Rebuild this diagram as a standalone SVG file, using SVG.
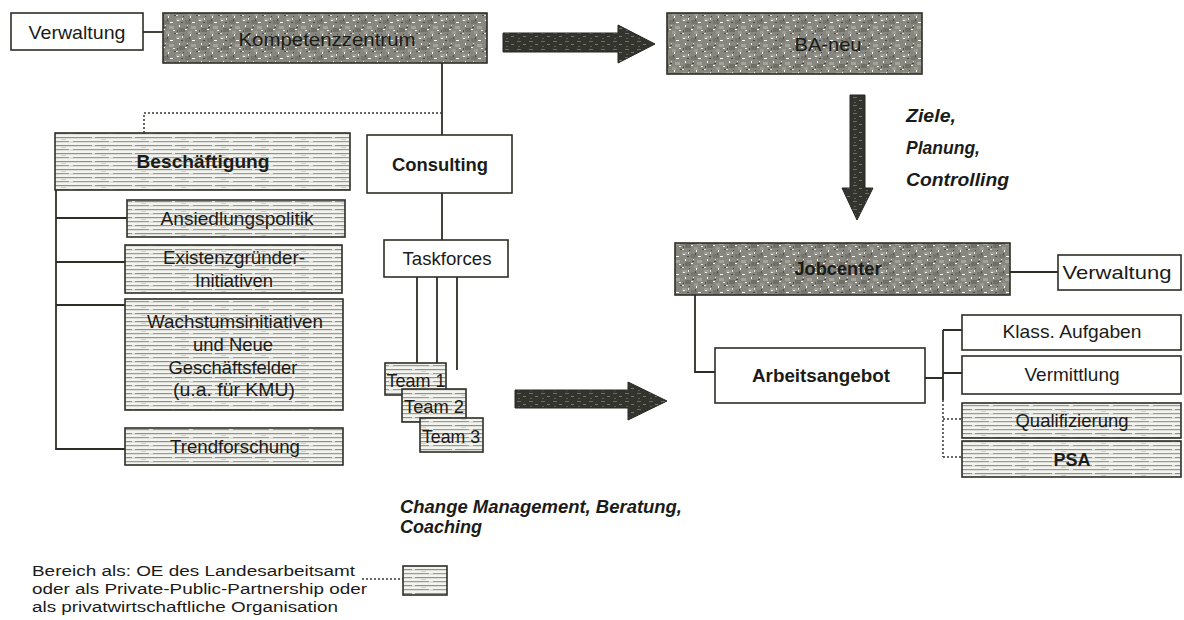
<svg xmlns="http://www.w3.org/2000/svg" width="1184" height="620" viewBox="0 0 1184 620">
  <defs>
    <!-- mottled grey fill used for the main organisational units -->
    <pattern id="speckle" width="22" height="18" patternUnits="userSpaceOnUse">
      <rect width="22" height="18" fill="#87877f"/>
      <rect x="0" y="0" width="5" height="3" fill="#9c9c94"/>
      <rect x="9" y="2" width="6" height="4" fill="#76766f"/>
      <rect x="15" y="8" width="5" height="3" fill="#a3a39a"/>
      <rect x="3" y="10" width="6" height="4" fill="#6f6f68"/>
      <rect x="12" y="13" width="4" height="3" fill="#9a9a92"/>
      <rect x="1" y="2" width="2" height="1" fill="#f4f4f0"/>
      <rect x="6" y="0" width="1" height="2" fill="#e8e8e2"/>
      <rect x="16" y="4" width="3" height="1" fill="#fafaf6"/>
      <rect x="3" y="7" width="1" height="2" fill="#ffffff"/>
      <rect x="19" y="12" width="2" height="1" fill="#eeeee8"/>
      <rect x="9" y="11" width="2" height="1" fill="#f6f6f2"/>
      <rect x="0" y="15" width="2" height="1" fill="#e2e2dc"/>
      <rect x="14" y="16" width="1" height="2" fill="#ffffff"/>
      <rect x="11" y="7" width="1" height="1" fill="#dcdcd4"/>
      <rect x="5" y="4" width="2" height="1" fill="#4a4a44"/>
      <rect x="13" y="1" width="1" height="2" fill="#50504a"/>
      <rect x="10" y="9" width="2" height="1" fill="#474741"/>
      <rect x="1" y="12" width="1" height="2" fill="#55554f"/>
      <rect x="20" y="15" width="2" height="1" fill="#4c4c46"/>
      <rect x="7" y="16" width="1" height="1" fill="#44443f"/>
    </pattern>
    <!-- light horizontal hatching for the optional units -->
    <pattern id="hatch" width="40" height="8" patternUnits="userSpaceOnUse">
      <rect width="40" height="8" fill="#f3f3ef"/>
      <rect x="0" y="1" width="40" height="1.2" fill="#909088"/>
      <rect x="0" y="5" width="40" height="1.2" fill="#9a9a92"/>
      <rect x="12" y="1" width="3" height="1.2" fill="#e4e4de"/>
      <rect x="29" y="5" width="4" height="1.2" fill="#e4e4de"/>
      <rect x="21" y="3" width="5" height="1" fill="#d0d0c8"/>
    </pattern>
    <!-- dark speckle for the transition arrows -->
    <pattern id="darkspeckle" width="12" height="8" patternUnits="userSpaceOnUse">
      <rect width="12" height="8" fill="#34342f"/>
      <rect x="1" y="1" width="4" height="1" fill="#6c6c62"/>
      <rect x="7" y="4" width="3" height="1" fill="#76766a"/>
      <rect x="2" y="6" width="2" height="1" fill="#5e5e55"/>
    </pattern>
  </defs>
  <style>
    .box { stroke: #2e2e27; stroke-width: 1.6; }
    .plain { fill: #ffffff; }
    .dark { fill: url(#speckle); }
    .light { fill: url(#hatch); }
    .lbl { font-family: "Liberation Sans", Arial, sans-serif; font-size: 18.5px; fill: #1b1b18; text-anchor: middle; }
    .b { font-weight: bold; }
    .note { font-family: "Liberation Sans", Arial, sans-serif; font-size: 18.5px; fill: #1b1b18; font-weight: bold; font-style: italic; }
    .legend { font-family: "Liberation Sans", Arial, sans-serif; font-size: 15.5px; fill: #1b1b18; }
    .line { fill: none; stroke: #2e2e27; stroke-width: 1.8; }
    .dot { fill: none; stroke: #3a3a33; stroke-width: 1.5; stroke-dasharray: 2 2; }
    .arrow { fill: url(#darkspeckle); stroke: #262622; stroke-width: 1; }
  </style>

  <rect width="1184" height="620" fill="#ffffff"/>

  <!-- connectors and transition arrows -->
  <g id="connectors">
    <path class="line" d="M143 32 H163"/>
    <path class="line" d="M442 63 V135"/>
    <path class="dot" d="M442 113 H144 V133"/>
    <path class="line" d="M442 193 V240"/>
    <path class="line" d="M417 277 V363 M437 277 V363 M457 277 V370"/>
    <path class="line" d="M56 190 V450"/>
    <path class="line" d="M56 218 H127 M56 262 H125 M56 305 H125 M56 449 H125"/>
    <path class="line" d="M1010 272 H1058"/>
    <path class="line" d="M695 295 V372 H715"/>
    <path class="line" d="M925 378 H943 M943 330 V400 M943 330 H962 M943 373 H962"/>
    <path class="dot" d="M943 400 V457 M943 419 H962 M943 457 H962"/>
    <path class="dot" d="M362 579 H403"/>
    <polygon class="arrow" points="503,33 618,33 618,25 655,44 618,63 618,52 503,52"/>
    <polygon class="arrow" points="850,95 865,95 865,188 873,188 857,220 842,188 850,188"/>
    <polygon class="arrow" points="515,390 628,390 628,382 667,401 628,420 628,408 515,408"/>
  </g>

  <g id="verwaltung-left">
    <rect class="box plain" x="11" y="13" width="132" height="37"/>
    <text class="lbl" x="77" y="39" textLength="97" lengthAdjust="spacingAndGlyphs">Verwaltung</text>
  </g>

  <g id="kompetenzzentrum">
    <rect class="box dark" x="163" y="13" width="324" height="50"/>
    <text class="lbl" x="327" y="46" textLength="177" lengthAdjust="spacingAndGlyphs">Kompetenzzentrum</text>
  </g>

  <g id="ba-neu">
    <rect class="box dark" x="667" y="13" width="255" height="61"/>
    <text class="lbl" x="828" y="51" textLength="67" lengthAdjust="spacingAndGlyphs">BA-neu</text>
  </g>

  <g id="beschaeftigung">
    <rect class="box light" x="55" y="133" width="295" height="57"/>
    <text class="lbl b" x="203" y="168" textLength="133" lengthAdjust="spacingAndGlyphs">Beschäftigung</text>
  </g>

  <g id="ansiedlungspolitik">
    <rect class="box light" x="127" y="200" width="218" height="37"/>
    <text class="lbl" x="237" y="225" textLength="153" lengthAdjust="spacingAndGlyphs">Ansiedlungspolitik</text>
  </g>

  <g id="existenzgruender">
    <rect class="box light" x="125" y="245" width="217" height="48"/>
    <text class="lbl" x="234" y="264" textLength="142" lengthAdjust="spacingAndGlyphs">Existenzgründer-</text>
    <text class="lbl" x="234" y="287" textLength="78" lengthAdjust="spacingAndGlyphs">Initiativen</text>
  </g>

  <g id="wachstumsinitiativen">
    <rect class="box light" x="125" y="299" width="218" height="111"/>
    <text class="lbl" x="235" y="328" textLength="176" lengthAdjust="spacingAndGlyphs">Wachstumsinitiativen</text>
    <text class="lbl" x="233" y="351" textLength="80" lengthAdjust="spacingAndGlyphs">und Neue</text>
    <text class="lbl" x="233" y="374" textLength="129" lengthAdjust="spacingAndGlyphs">Geschäftsfelder</text>
    <text class="lbl" x="234" y="396" textLength="122" lengthAdjust="spacingAndGlyphs">(u.a. für KMU)</text>
  </g>

  <g id="trendforschung">
    <rect class="box light" x="125" y="428" width="218" height="37"/>
    <text class="lbl" x="235" y="453" textLength="130" lengthAdjust="spacingAndGlyphs">Trendforschung</text>
  </g>

  <g id="consulting">
    <rect class="box plain" x="367" y="135" width="145" height="58"/>
    <text class="lbl b" x="440" y="171" textLength="96" lengthAdjust="spacingAndGlyphs">Consulting</text>
  </g>

  <g id="taskforces">
    <rect class="box plain" x="384" y="240" width="124" height="37"/>
    <text class="lbl" x="447" y="265" textLength="89" lengthAdjust="spacingAndGlyphs">Taskforces</text>
  </g>

  <g id="team-1">
    <rect class="box light" x="385" y="363" width="61" height="32"/>
    <text class="lbl" x="416" y="387" font-size="17" textLength="59" lengthAdjust="spacingAndGlyphs">Team 1</text>
  </g>

  <g id="team-2">
    <rect class="box light" x="402" y="389" width="64" height="33"/>
    <text class="lbl" x="434" y="413" font-size="17" textLength="60" lengthAdjust="spacingAndGlyphs">Team 2</text>
  </g>

  <g id="team-3">
    <rect class="box light" x="420" y="418" width="63" height="34"/>
    <text class="lbl" x="451" y="443" font-size="17" textLength="58" lengthAdjust="spacingAndGlyphs">Team 3</text>
  </g>

  <g id="jobcenter">
    <rect class="box dark" x="675" y="243" width="335" height="52"/>
    <text class="lbl b" x="838" y="275" textLength="87" lengthAdjust="spacingAndGlyphs">Jobcenter</text>
  </g>

  <g id="verwaltung-right">
    <rect class="box plain" x="1058" y="255" width="123" height="35"/>
    <text class="lbl" x="1117" y="279" textLength="109" lengthAdjust="spacingAndGlyphs">Verwaltung</text>
  </g>

  <g id="arbeitsangebot">
    <rect class="box plain" x="715" y="348" width="210" height="55"/>
    <text class="lbl b" x="821" y="382" textLength="138" lengthAdjust="spacingAndGlyphs">Arbeitsangebot</text>
  </g>

  <g id="klass-aufgaben">
    <rect class="box plain" x="962" y="315" width="219" height="35"/>
    <text class="lbl" x="1072" y="338" textLength="139" lengthAdjust="spacingAndGlyphs">Klass. Aufgaben</text>
  </g>

  <g id="vermittlung">
    <rect class="box plain" x="962" y="356" width="219" height="38"/>
    <text class="lbl" x="1072" y="381" textLength="95" lengthAdjust="spacingAndGlyphs">Vermittlung</text>
  </g>

  <g id="qualifizierung">
    <rect class="box light" x="962" y="403" width="219" height="35"/>
    <text class="lbl" x="1072" y="427" textLength="113" lengthAdjust="spacingAndGlyphs">Qualifizierung</text>
  </g>

  <g id="psa">
    <rect class="box light" x="962" y="441" width="219" height="36"/>
    <text class="lbl b" x="1072" y="466" textLength="37" lengthAdjust="spacingAndGlyphs">PSA</text>
  </g>

  <!-- annotations on the transitions -->
  <g id="note-steuerung">
    <text class="note" x="906" y="122" textLength="50" lengthAdjust="spacingAndGlyphs">Ziele,</text>
    <text class="note" x="906" y="154" textLength="74" lengthAdjust="spacingAndGlyphs">Planung,</text>
    <text class="note" x="906" y="186" textLength="103" lengthAdjust="spacingAndGlyphs">Controlling</text>
  </g>

  <g id="note-change">
    <text class="note" x="400" y="513" textLength="282" lengthAdjust="spacingAndGlyphs">Change Management, Beratung,</text>
    <text class="note" x="400" y="533" textLength="82" lengthAdjust="spacingAndGlyphs">Coaching</text>
  </g>

  <!-- legend -->
  <g id="legend">
    <text class="legend" x="32" y="576" textLength="323" lengthAdjust="spacingAndGlyphs">Bereich als: OE des Landesarbeitsamt</text>
    <text class="legend" x="32" y="594" textLength="335" lengthAdjust="spacingAndGlyphs">oder als Private-Public-Partnership oder</text>
    <text class="legend" x="32" y="612" textLength="306" lengthAdjust="spacingAndGlyphs">als privatwirtschaftliche Organisation</text>
    <rect class="box light" x="403" y="566" width="44" height="29"/>
  </g>
</svg>
